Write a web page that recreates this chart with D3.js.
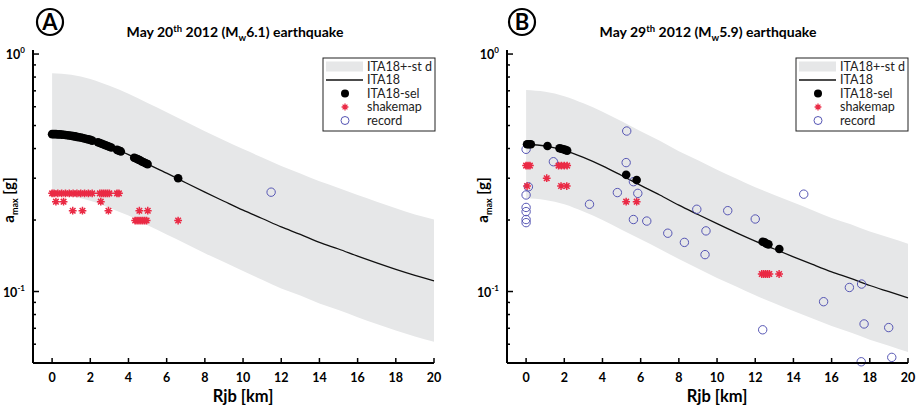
<!DOCTYPE html>
<html>
<head>
<meta charset="utf-8">
<script src="https://cdn.jsdelivr.net/npm/d3@7"></script>
<style>
  body { margin: 0; background: #fff; }
  text { font-family: Lato, "Open Sans", sans-serif; }
</style>
</head>
<body>
<div id="chart"></div>
<script>
// distance grid for the model curves (km)
const distGrid = [0,1,2,3,4,5,6,7,8,9,10,11,12,13,14,15,16,17,18,19,20];

// Panel A - May 20th 2012 (Mw 6.1)
const ita18A   = [0.460,0.453,0.435,0.407,0.377,0.344,0.315,0.287,0.262,0.240,0.220,0.203,0.187,0.174,0.161,0.151,0.141,0.132,0.124,0.117,0.111];
const ita18UpA = [0.831,0.819,0.786,0.735,0.681,0.622,0.569,0.519,0.473,0.434,0.398,0.367,0.338,0.314,0.291,0.273,0.255,0.239,0.224,0.211,0.201];
const ita18LoA = [0.255,0.251,0.241,0.225,0.209,0.190,0.174,0.159,0.145,0.133,0.122,0.112,0.103,0.0963,0.0891,0.0836,0.0780,0.0730,0.0686,0.0647,0.0614];
const selDistA = [0,0.1,0.2,0.3,0.4,0.5,0.6,0.7,0.8,0.9,1.0,1.1,1.2,1.3,1.4,1.5,1.6,1.7,1.8,1.9,2.0,2.1,2.4,2.5,2.6,2.7,2.8,2.9,3.0,3.1,3.4,3.5,3.6,4.3,4.4,4.5,4.6,4.7,4.8,4.9,5.0,6.6];
const selValA  = [0.460,0.460,0.460,0.459,0.459,0.458,0.457,0.456,0.455,0.454,0.453,0.451,0.450,0.448,0.446,0.445,0.443,0.441,0.439,0.437,0.435,0.432,0.425,0.422,0.419,0.416,0.413,0.410,0.407,0.404,0.395,0.392,0.389,0.366,0.363,0.360,0.357,0.353,0.350,0.347,0.344,0.300];
const shakeDistA = [0,0.1,0.3,0.5,0.7,0.9,1.1,1.3,1.5,1.7,1.9,2.1,2.5,2.6,2.7,2.8,2.9,3.0,3.4,3.5, 0.2,0.6,2.55, 1.08,1.59,2.95,4.57,5.01, 4.35,4.45,4.55,4.65,4.75,4.85,4.95,6.6];
const shakeValA  = [0.259,0.259,0.259,0.259,0.259,0.259,0.259,0.259,0.259,0.259,0.259,0.259,0.259,0.259,0.259,0.259,0.259,0.259,0.259,0.259, 0.239,0.239,0.239, 0.219,0.219,0.219,0.219,0.219, 0.199,0.199,0.199,0.199,0.199,0.199,0.199,0.199];
const recDistA = [11.47];
const recValA  = [0.262];

// Panel B - May 29th 2012 (Mw 5.9)
const ita18B   = [0.417,0.410,0.393,0.367,0.338,0.308,0.280,0.255,0.231,0.211,0.193,0.177,0.163,0.151,0.140,0.130,0.121,0.1135,0.106,0.0998,0.094];
const ita18UpB = [0.705,0.693,0.664,0.620,0.571,0.521,0.473,0.431,0.390,0.357,0.326,0.299,0.275,0.255,0.237,0.220,0.204,0.192,0.179,0.169,0.159];
const ita18LoB = [0.247,0.243,0.233,0.217,0.200,0.182,0.166,0.151,0.137,0.125,0.114,0.105,0.0964,0.0893,0.0828,0.0769,0.0716,0.0672,0.0627,0.0591,0.0556];
const selDistB = [0.05,0.15,0.25,1.12,1.75,1.85,1.95,2.05,2.15,5.24,5.79,12.39,12.49,12.59,12.69,13.26];
const selValB  = [0.417,0.417,0.417,0.410,0.401,0.399,0.397,0.395,0.392,0.310,0.295,0.162,0.161,0.159,0.158,0.151];
const shakeDistB = [0,0.1,0.2,0.05,1.08,1.7,1.85,2.0,2.15,1.83,2.13,5.24,5.79,12.34,12.44,12.54,12.64,12.74,13.25];
const shakeValB  = [0.339,0.339,0.339,0.278,0.300,0.339,0.339,0.339,0.339,0.278,0.278,0.239,0.239,0.1185,0.1185,0.1185,0.1185,0.1185,0.1185];
const recDistB = [5.27,0.0,1.43,5.24,0.12,5.62,5.85,4.78,0.0,3.32,0.0,0.0,0.0,0.0,5.62,6.32,7.42,8.29,8.94,9.42,9.37,10.56,12.0,14.54,16.93,17.57,15.58,12.39,17.7,18.99,17.55,19.15];
const recValB  = [0.474,0.397,0.352,0.349,0.276,0.290,0.259,0.261,0.255,0.233,0.226,0.217,0.201,0.195,0.201,0.198,0.176,0.161,0.222,0.180,0.143,0.219,0.202,0.257,0.104,0.1075,0.0906,0.069,0.073,0.0705,0.0506,0.0528];

const xTicks = [0,2,4,6,8,10,12,14,16,18,20];
const yMinor = [0.06,0.07,0.08,0.09,0.2,0.3,0.4,0.5,0.6,0.7,0.8,0.9];
const legendLabels = ["ITA18+-st d","ITA18","ITA18-sel","shakemap","record"];

const W = 919, H = 408;
const bandColor = "#e6e7e8";
const starColor = "#ea2a45";
const recColor = "#5656b4";

const svg = d3.select("#chart").append("svg")
    .attr("width", W)
    .attr("height", H);

function starPath(cx, cy, r) {
    const d = r * 0.707;
    return `M${cx - r},${cy}L${cx + r},${cy}M${cx},${cy - r}L${cx},${cy + r}` +
           `M${cx - d},${cy - d}L${cx + d},${cy + d}M${cx - d},${cy + d}L${cx + d},${cy - d}`;
}

function drawPanel(p) {
    const x = d3.scaleLinear().domain([-1, 20]).range([p.left, p.left + 401]);
    const y = d3.scaleLog().domain([0.05, 1.04]).range([363, 50]);
    const g = svg.append("g");

    // band
    const area = d3.area()
        .x((d, i) => x(distGrid[i]))
        .y0((d, i) => y(p.lo[i]))
        .y1((d, i) => y(p.up[i]))
        .curve(d3.curveMonotoneX);
    g.append("path").datum(p.up).attr("d", area).attr("fill", bandColor);

    // ITA18 line
    const line = d3.line()
        .x((d, i) => x(distGrid[i]))
        .y(d => y(d))
        .curve(d3.curveMonotoneX);
    g.append("path").datum(p.mid).attr("d", line)
        .attr("fill", "none").attr("stroke", "#111").attr("stroke-width", 1.3);

    // records
    g.selectAll(".rec").data(p.recD).enter().append("circle")
        .attr("cx", d => x(d))
        .attr("cy", (d, i) => y(p.recV[i]))
        .attr("r", 4.2)
        .attr("fill", "none")
        .attr("stroke", recColor)
        .attr("stroke-width", 1);

    // ITA18-sel
    g.selectAll(".sel").data(p.selD).enter().append("circle")
        .attr("cx", d => x(d))
        .attr("cy", (d, i) => y(p.selV[i]))
        .attr("r", 4.3)
        .attr("fill", "#000");

    // shakemap
    g.selectAll(".star").data(p.shD).enter().append("path")
        .attr("d", (d, i) => starPath(x(d), y(p.shV[i]), 3.9))
        .attr("stroke", starColor)
        .attr("stroke-width", 1.5)
        .attr("fill", "none");

    // axes
    const xAxis = g.append("g").attr("transform", "translate(0,363)");
    xAxis.append("line").attr("x1", x(-1)).attr("x2", x(20))
        .attr("stroke", "#000").attr("stroke-width", 2);
    xAxis.selectAll(".xt").data(xTicks).enter().append("line")
        .attr("x1", d => x(d)).attr("x2", d => x(d))
        .attr("y1", 0).attr("y2", -5)
        .attr("stroke", "#000").attr("stroke-width", 1.5);
    xAxis.selectAll(".xl").data(xTicks).enter().append("text")
        .attr("x", d => x(d)).attr("y", 19)
        .attr("text-anchor", "middle")
        .style("font-size", "12.5px").style("font-weight", 700)
        .text(d => d);
    g.append("text")
        .attr("x", x(10)).attr("y", 402)
        .attr("text-anchor", "middle")
        .style("font-size", "16.5px").style("font-weight", 700)
        .text("Rjb [km]");

    const yAxis = g.append("g").attr("transform", `translate(${x(-1)},0)`);
    yAxis.append("line").attr("y1", y(0.05)).attr("y2", y(1.04))
        .attr("stroke", "#000").attr("stroke-width", 2);
    yAxis.selectAll(".ym").data([0.1, 1]).enter().append("line")
        .attr("y1", d => y(d)).attr("y2", d => y(d))
        .attr("x1", 0).attr("x2", 6)
        .attr("stroke", "#000").attr("stroke-width", 1.5);
    yAxis.selectAll(".yn").data(yMinor).enter().append("line")
        .attr("y1", d => y(d)).attr("y2", d => y(d))
        .attr("x1", 0).attr("x2", 3)
        .attr("stroke", "#000").attr("stroke-width", 1.5);
    [[1, "0"], [0.1, "-1"]].forEach(([v, e]) => {
        const t = yAxis.append("text")
            .attr("x", -8).attr("y", y(v) + 5)
            .attr("text-anchor", "end")
            .style("font-size", "12.5px").style("font-weight", 700);
        t.append("tspan").text("10");
        t.append("tspan").attr("dy", -6).style("font-size", "8px").text(e);
    });
    const yl = g.append("text")
        .attr("transform", `translate(${p.left - 19},200) rotate(-90)`)
        .attr("text-anchor", "middle")
        .style("font-size", "15px").style("font-weight", 700);
    yl.append("tspan").text("a");
    yl.append("tspan").attr("dy", 4).style("font-size", "9px").text("max");
    yl.append("tspan").attr("dy", -4).text(" [g]");

    // title
    const tt = g.append("text")
        .attr("x", p.titleX).attr("y", 37)
        .attr("text-anchor", "middle")
        .style("font-size", "14px").style("font-weight", 700);
    tt.append("tspan").text(p.title[0]);
    tt.append("tspan").attr("dy", -5).style("font-size", "9.5px").text("th");
    tt.append("tspan").attr("dy", 5).text(" 2012 (M");
    tt.append("tspan").attr("dy", 4).style("font-size", "9.5px").text("w");
    tt.append("tspan").attr("dy", -4).text(p.title[1]);

    // panel letter
    g.append("circle").attr("cx", p.letterX).attr("cy", 22).attr("r", 13)
        .attr("fill", "none").attr("stroke", "#000").attr("stroke-width", 2.2);
    g.append("text").attr("x", p.letterX).attr("y", 30)
        .attr("text-anchor", "middle")
        .style("font-size", "22px").style("font-weight", 700)
        .text(p.letter);

    // legend
    const lx = p.legX, ly = 58;
    const lg = g.append("g");
    lg.append("rect").attr("x", lx).attr("y", ly).attr("width", 112).attr("height", 73)
        .attr("fill", "#fff").attr("stroke", "#222").attr("stroke-width", 1);
    lg.selectAll(".lt").data(legendLabels).enter().append("text")
        .attr("x", lx + 44).attr("y", (d, i) => ly + 12.5 + i * 13.5)
        .style("font-size", "12.5px").style("fill", "#222")
        .text(d => d);
    const ry = i => ly + 8.5 + i * 13.5;
    lg.append("rect").attr("x", lx + 3).attr("y", ry(0) - 5).attr("width", 37).attr("height", 10)
        .attr("fill", bandColor);
    lg.append("line").attr("x1", lx + 3).attr("x2", lx + 40).attr("y1", ry(1)).attr("y2", ry(1))
        .attr("stroke", "#111").attr("stroke-width", 1.3);
    lg.append("circle").attr("cx", lx + 22).attr("cy", ry(2)).attr("r", 4).attr("fill", "#000");
    lg.append("path").attr("d", starPath(lx + 22, ry(3), 3.4))
        .attr("stroke", starColor).attr("stroke-width", 1.3);
    lg.append("circle").attr("cx", lx + 22).attr("cy", ry(4)).attr("r", 4)
        .attr("fill", "none").attr("stroke", recColor);
}

drawPanel({
    left: 33, titleX: 235, letterX: 50, letter: "A", legX: 323,
    title: ["May 20", "6.1) earthquake"],
    mid: ita18A, up: ita18UpA, lo: ita18LoA,
    selD: selDistA, selV: selValA,
    shD: shakeDistA, shV: shakeValA,
    recD: recDistA, recV: recValA
});

drawPanel({
    left: 507, titleX: 708, letterX: 522, letter: "B", legX: 796,
    title: ["May 29", "5.9) earthquake"],
    mid: ita18B, up: ita18UpB, lo: ita18LoB,
    selD: selDistB, selV: selValB,
    shD: shakeDistB, shV: shakeValB,
    recD: recDistB, recV: recValB
});
</script>
</body>
</html>
